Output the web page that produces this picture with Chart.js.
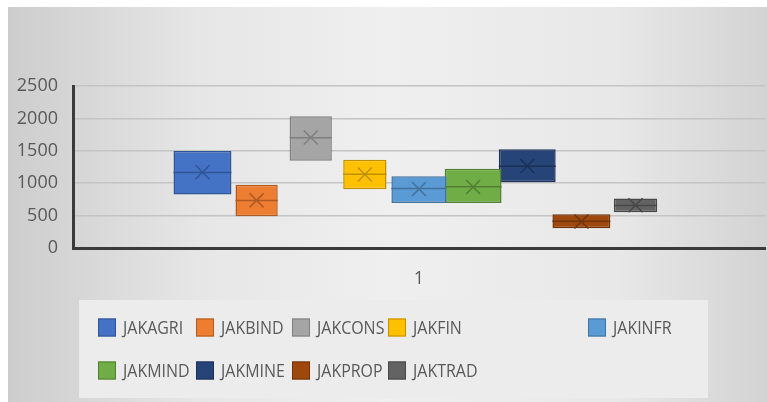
<!DOCTYPE html>
<html>
<head>
<meta charset="utf-8">
<script src="https://cdn.jsdelivr.net/npm/chart.js@4/dist/chart.umd.min.js"></script>
<style>
  html, body { margin: 0; padding: 0; background: #fff; }
  #wrap { width: 767px; height: 402px; position: relative; }
</style>
</head>
<body>
<div id="wrap"><canvas id="c" width="767" height="402"></canvas></div>
<script>
// Category and series
const categories = ['1'];
const seriesNames = ['JAKAGRI', 'JAKBIND', 'JAKCONS', 'JAKFIN', 'JAKINFR', 'JAKMIND', 'JAKMINE', 'JAKPROP', 'JAKTRAD'];

// Box statistics per series
const lowerQuartile = [825, 490, 1347, 907, 696, 696, 1016, 303, 551];
const upperQuartile = [1495, 975, 2032, 1362, 1108, 1223, 1522, 520, 763];
const medianValues  = [1165, 732, 1702, 1140, 918, 944, 1263, 412, 655];
const meanValues    = [1170, 735, 1705, 1135, 910, 940, 1265, 410, 660];

// Y axis ticks
const yTicks = [0, 500, 1000, 1500, 2000, 2500];

// Office palette
const fillColors   = ['#4472C4', '#ED7D31', '#A5A5A5', '#FFC000', '#5B9BD5', '#70AD47', '#264478', '#9E480E', '#636363'];
const strokeColors = ['#2F5597', '#AE5A21', '#7F7F7F', '#BF9000', '#41719C', '#507E32', '#1B3157', '#71340A', '#474747'];
const boxWidths    = [1.07, 0.78, 0.78, 0.8, 1.02, 1.05, 1.05, 1.07, 0.8];

const TEXT = '#595959';
const FONT = "'Open Sans', 'DejaVu Sans', sans-serif";

// Panel background and legend box behind the plot
const backdrop = {
  id: 'backdrop',
  beforeDraw(chart) {
    const ctx = chart.ctx;
    ctx.save();
    ctx.fillStyle = '#ffffff';
    ctx.fillRect(0, 0, chart.width, chart.height);
    const g = ctx.createLinearGradient(8, 0, chart.width, 0);
    g.addColorStop(0, '#cdcdcd');
    g.addColorStop(0.25, '#e6e6e6');
    g.addColorStop(0.5, '#efefef');
    g.addColorStop(0.8, '#e8e8e8');
    g.addColorStop(1, '#d3d3d3');
    ctx.fillStyle = g;
    ctx.fillRect(8, 7, chart.width - 8, chart.height - 7);
    ctx.fillStyle = '#ececec';
    ctx.fillRect(79, 300, 629, 98);
    ctx.restore();
  }
};

// Median line and mean cross on each box
const boxMarks = {
  id: 'boxMarks',
  afterDatasetsDraw(chart) {
    const ctx = chart.ctx;
    const y = chart.scales.y;
    ctx.save();
    chart.data.datasets.forEach((ds, i) => {
      const el = chart.getDatasetMeta(i).data[0];
      if (!el) return;
      const half = el.width / 2;
      const ym = y.getPixelForValue(medianValues[i]);
      ctx.strokeStyle = strokeColors[i];
      ctx.lineWidth = 1.5;
      ctx.beginPath();
      ctx.moveTo(el.x - half, ym);
      ctx.lineTo(el.x + half, ym);
      ctx.stroke();
      const yx = y.getPixelForValue(meanValues[i]);
      const r = 7;
      ctx.beginPath();
      ctx.moveTo(el.x - r, yx - r); ctx.lineTo(el.x + r, yx + r);
      ctx.moveTo(el.x + r, yx - r); ctx.lineTo(el.x - r, yx + r);
      ctx.stroke();
    });
    ctx.restore();
  }
};

// Two-row legend grid
const gridLegend = {
  id: 'gridLegend',
  afterDraw(chart) {
    const ctx = chart.ctx;
    const cols = [98, 196, 292, 388, 588];
    const rows = [327.5, 370.5];
    ctx.save();
    ctx.font = '19px ' + FONT;
    ctx.textBaseline = 'middle';
    chart.data.datasets.forEach((ds, i) => {
      const row = i < 5 ? 0 : 1;
      const col = i < 5 ? i : i - 5;
      const x = cols[col], yc = rows[row];
      ctx.fillStyle = ds.backgroundColor;
      ctx.fillRect(x, yc - 9, 18, 18);
      ctx.strokeStyle = ds.borderColor;
      ctx.lineWidth = 1;
      ctx.strokeRect(x + 0.5, yc - 8.5, 17, 17);
      ctx.save();
      ctx.translate(x + 25, yc + 1);
      ctx.scale(0.84, 1);
      ctx.fillStyle = TEXT;
      ctx.fillText(ds.label, 0, 0);
      ctx.restore();
    });
    ctx.restore();
  }
};

const datasets = seriesNames.map((name, i) => ({
  label: name,
  data: [[lowerQuartile[i], upperQuartile[i]]],
  backgroundColor: fillColors[i],
  borderColor: strokeColors[i],
  borderWidth: 1.5,
  borderSkipped: false,
  barPercentage: boxWidths[i],
  categoryPercentage: 0.704
}));

new Chart(document.getElementById('c'), {
  type: 'bar',
  data: { labels: categories, datasets },
  plugins: [backdrop, boxMarks, gridLegend],
  options: {
    responsive: false,
    animation: false,
    devicePixelRatio: 1,
    layout: { padding: { left: 0, right: 2, top: 86, bottom: 0 } },
    plugins: { legend: { display: false }, tooltip: { enabled: false } },
    scales: {
      x: {
        grid: { display: false, drawTicks: false },
        border: { display: true, color: '#3a3a3a', width: 3 },
        ticks: { color: TEXT, font: { family: FONT, size: 18 }, padding: 20 },
        afterFit(s) { s.height = 154; }
      },
      y: {
        min: 0,
        max: 2500,
        afterBuildTicks(s) { s.ticks = yTicks.map(v => ({ value: v })); },
        grid: { color: '#c4c4c4', lineWidth: 1.5, drawTicks: false },
        border: { display: true, color: '#3a3a3a', width: 3 },
        ticks: {
          color: TEXT,
          font: { family: FONT, size: 18 },
          padding: 15,
          callback: (v) => String(v)
        },
        afterFit(s) { s.width = 73; }
      }
    }
  }
});
</script>
</body>
</html>
